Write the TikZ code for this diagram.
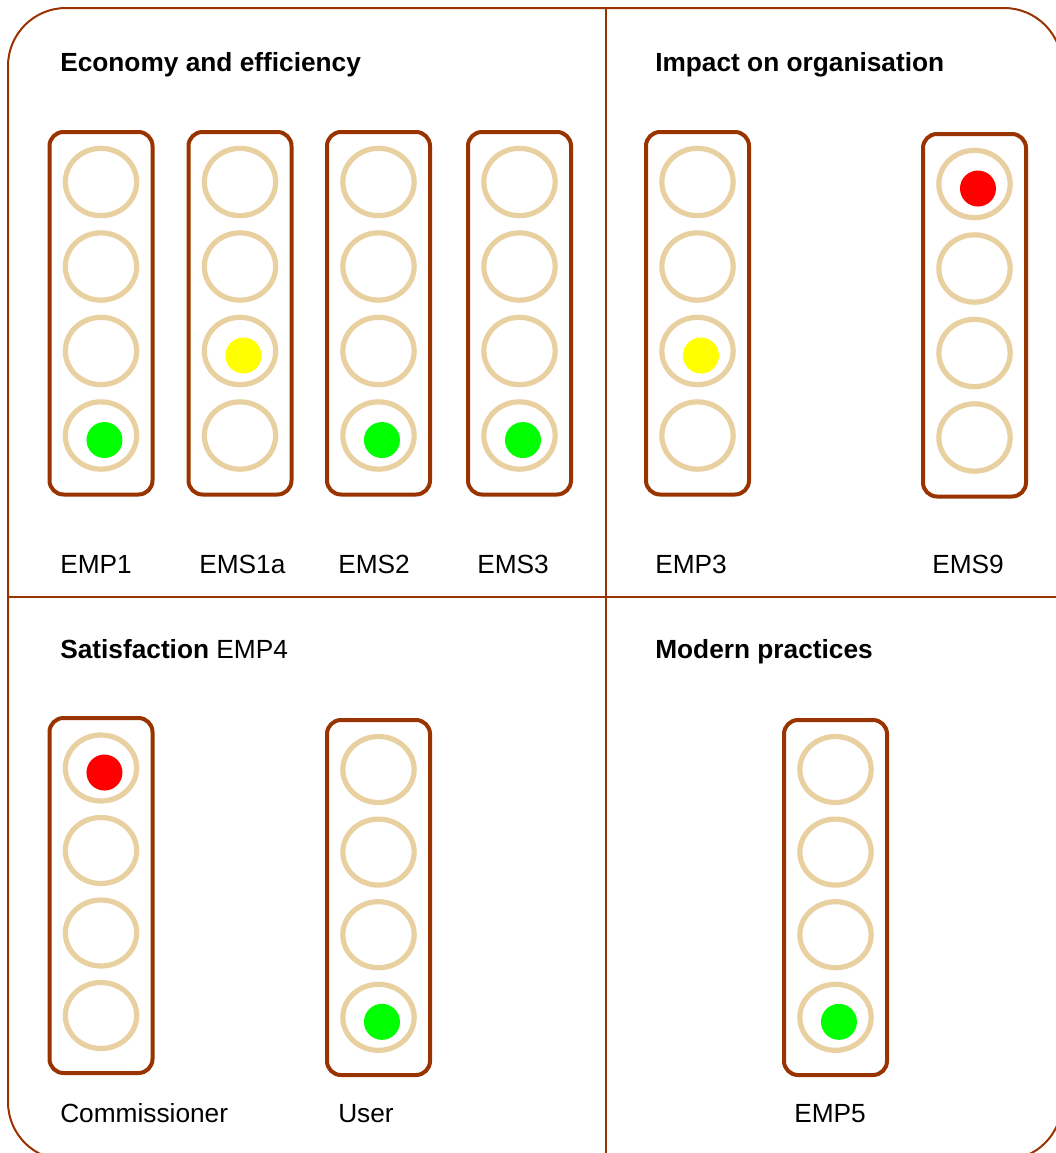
\documentclass[tikz,border=0pt]{standalone}
\usepackage{fontspec}
\setmainfont{Liberation Sans}
\usetikzlibrary{shapes.geometric}
\definecolor{framebrown}{RGB}{153,51,0}
\definecolor{lampring}{RGB}{233,208,160}
\definecolor{litgreen}{RGB}{0,255,0}
\definecolor{lityellow}{RGB}{255,255,0}
\definecolor{litred}{RGB}{255,0,0}
\tikzset{
  housing/.style={draw=framebrown, line width=3pt, rounded corners=10.5pt, minimum width=77.25pt, inner sep=0pt, fill=white},
  ringlamp/.style={ellipse, draw=lampring, line width=3.9pt, minimum width=53.5pt, inner sep=0pt},
  litdot/.style={circle, fill=#1, minimum size=27pt, inner sep=0pt},
  paneltitle/.style={anchor=base west, inner sep=0pt, font=\bfseries\fontsize{19.7}{24}\selectfont},
  lightlabel/.style={anchor=base west, inner sep=0pt, font=\fontsize{19.7}{24}\selectfont},
  frameline/.style={draw=framebrown, line width=1.5pt},
}
% name, cx, top, bottom, first lamp y, lamp spacing, lit index, lit colour, ring height (pt)
\newcommand\trafficlight[9]{%
  \node[housing, minimum height={(#4-#3)*0.75pt}] (#1) at (#2,{(#3+#4)/2}) {};
  \foreach \i in {1,...,4} {
    \node[ringlamp, minimum height=#9] (#1-\i) at (#2,{#5+(\i-1)*#6}) {};
  }
  \node[litdot=#8] (#1-lit) at ([xshift=2.6pt,yshift=-3.4pt]#1-#7.center) {};
}
\begin{document}
\begin{tikzpicture}[x=0.75pt,y=-0.75pt]
\useasboundingbox (0,0) rectangle (1056,1153);
\clip (0,0) rectangle (1056,1153);
\fill[white] (0,0) rectangle (1056,1153);
% outer frame and dividers
\draw[frameline, rounded corners=43.5pt] (8,8) rectangle (1062,1160);
\draw[frameline] (605.5,8) -- (605.5,1160);
\draw[frameline] (8,596.5) -- (1062,596.5);
% titles
\node[paneltitle] (title-econ) at (60,71) {Economy and efficiency};
\node[paneltitle] (title-impact) at (655,71) {Impact on organisation};
\node[lightlabel] (title-satis) at (60,658) {\textbf{Satisfaction} EMP4};
\node[paneltitle] (title-modern) at (655,658) {Modern practices};
% traffic lights
\trafficlight{EMP1}{101}{132}{494.5}{182}{84.5}{4}{litgreen}{50.5pt}
\trafficlight{EMS1a}{240}{132}{494.5}{182}{84.5}{3}{lityellow}{50.5pt}
\trafficlight{EMS2}{378.5}{132}{494.5}{182}{84.5}{4}{litgreen}{50.5pt}
\trafficlight{EMS3}{519.5}{132}{494.5}{182}{84.5}{4}{litgreen}{50.5pt}
\trafficlight{EMP3}{697.5}{132}{494.5}{182}{84.5}{3}{lityellow}{50.5pt}
\trafficlight{EMS9}{974.5}{134}{496.5}{184}{84.5}{1}{litred}{50.5pt}
\trafficlight{Comm}{101}{718}{1073}{768}{82.5}{1}{litred}{49.5pt}
\trafficlight{User}{378.5}{720}{1075}{769.5}{82.6}{4}{litgreen}{49.5pt}
\trafficlight{EMP5}{835.5}{720}{1075}{769.5}{82.6}{4}{litgreen}{49.5pt}
% labels
\node[lightlabel] (lab-EMP1) at (60,573) {EMP1};
\node[lightlabel] (lab-EMS1a) at (199,573) {EMS1a};
\node[lightlabel] (lab-EMS2) at (338,573) {EMS2};
\node[lightlabel] (lab-EMS3) at (477,573) {EMS3};
\node[lightlabel] (lab-EMP3) at (655,573) {EMP3};
\node[lightlabel] (lab-EMS9) at (932,573) {EMS9};
\node[lightlabel] (lab-Comm) at (60,1122) {Commissioner};
\node[lightlabel] (lab-User) at (338,1122) {User};
\node[lightlabel] (lab-EMP5) at (794,1122) {EMP5};
\end{tikzpicture}
\end{document}
